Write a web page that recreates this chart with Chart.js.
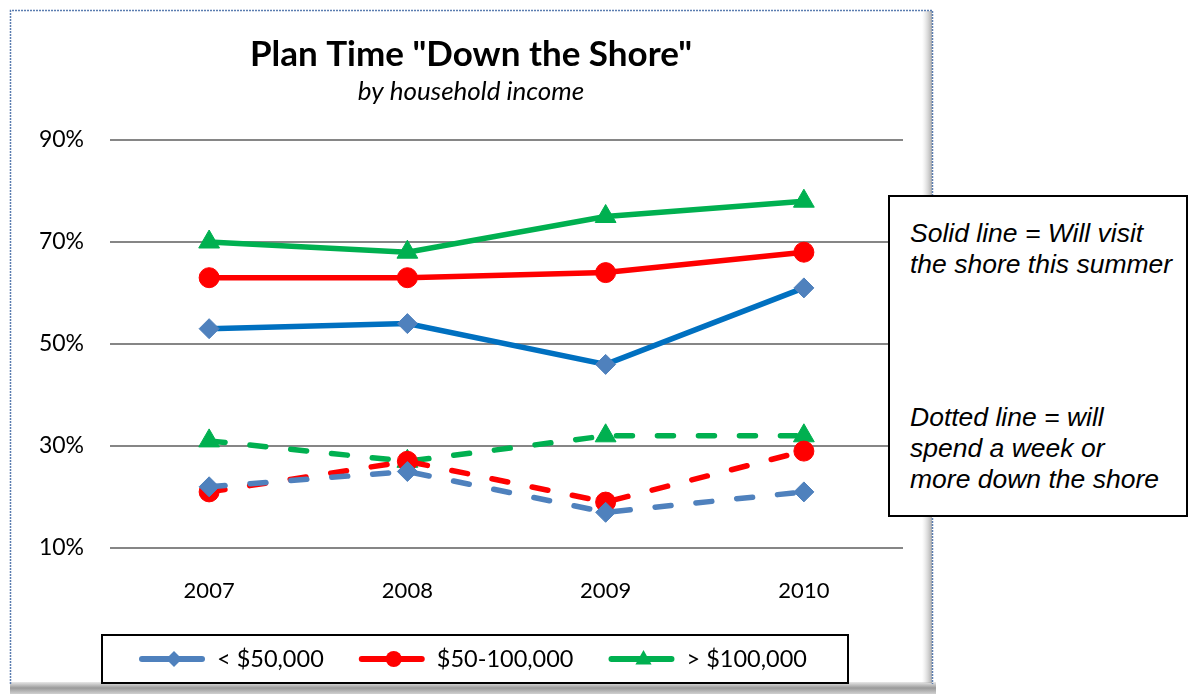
<!DOCTYPE html>
<html><head><meta charset="utf-8">
<script src="https://cdn.jsdelivr.net/npm/chart.js@4.4.1/dist/chart.umd.min.js"></script>
<style>
html,body{margin:0;padding:0;background:#fff;width:1191px;height:694px;overflow:hidden;}
#wrap{position:relative;width:1191px;height:694px;}
#note{position:absolute;left:888px;top:195px;width:296px;height:318px;border:2px solid #000;background:#fff;
 font-family:"Liberation Sans",Arial,sans-serif;font-style:italic;font-size:26.5px;line-height:31px;color:#000;box-sizing:content-box;}
#note p{margin:0;position:absolute;left:20px;white-space:nowrap;}
</style></head>
<body><div id="wrap"><canvas id="c" width="1191" height="694"></canvas>
<div id="note"><p style="top:21px">Solid line = Will visit<br>the shore this summer</p><p style="top:205px">Dotted line = will<br>spend a week or<br>more down the shore</p></div></div>
<script>
const categories = ['2007','2008','2009','2010'];
const visitUnder50 = [53,54,46,61];
const visit50to100 = [63,63,64,68];
const visitOver100 = [70,68,75,78];
const weekUnder50 = [22,25,17,21];
const week50to100 = [21,27,19,29];
const weekOver100 = [31,27,32,32];
const seriesLabels = ['< $50,000','$50-100,000','> $100,000'];
const yTicks = [10,30,50,70,90];
const titleText = 'Plan Time "Down the Shore"';
const subtitleText = 'by household income';

const BLUE_LINE='#0070C0', BLUE='#4F81BD', RED='#FF0000', GREEN='#00B050';
function ds(label,data,line,mark,style,r,dashed,legend){
  return {label,data,borderColor:line,backgroundColor:mark,pointBackgroundColor:mark,pointBorderColor:mark,
    pointStyle:style,pointRadius:r,pointHoverRadius:r,pointBorderWidth:1,borderWidth:5.5,
    borderDash:dashed?[16,25]:[],borderCapStyle:dashed?'round':'butt',tension:0,fill:false,inLegend:legend};
}
const datasets=[
  ds(seriesLabels[0],weekUnder50,BLUE,BLUE,'rectRot',10,true,true),
  ds(seriesLabels[1],week50to100,RED,RED,'circle',10,true,true),
  ds(seriesLabels[2],weekOver100,GREEN,GREEN,'triangle',12,true,true),
  ds(seriesLabels[0]+' visit',visitUnder50,BLUE_LINE,BLUE,'rectRot',10,false,false),
  ds(seriesLabels[1]+' visit',visit50to100,RED,RED,'circle',10,false,false),
  ds(seriesLabels[2]+' visit',visitOver100,GREEN,GREEN,'triangle',12,false,false)
];

function drawMarker(ctx,style,x,y,r,color){
  ctx.save();ctx.fillStyle=color;ctx.beginPath();
  if(style==='circle'){ctx.arc(x,y,r,0,Math.PI*2);}
  else if(style==='rectRot'){ctx.moveTo(x,y-r);ctx.lineTo(x+r,y);ctx.lineTo(x,y+r);ctx.lineTo(x-r,y);ctx.closePath();}
  else {ctx.moveTo(x,y-r);ctx.lineTo(x+r*0.9,y+r*0.6);ctx.lineTo(x-r*0.9,y+r*0.6);ctx.closePath();}
  ctx.fill();ctx.restore();
}

const framePlugin={id:'frame',beforeDraw(chart){
  const ctx=chart.ctx;ctx.save();
  ctx.fillStyle='#fff';ctx.fillRect(0,0,chart.width,chart.height);
  let g=ctx.createLinearGradient(0,682,0,694);g.addColorStop(0,'#e8e8e8');g.addColorStop(0.5,'#9a9a9a');g.addColorStop(1,'#d0d0d0');
  ctx.fillStyle=g;ctx.fillRect(10,682,926,12);
  g=ctx.createLinearGradient(922,0,932,0);g.addColorStop(0,'rgba(200,200,200,0)');g.addColorStop(1,'rgba(150,150,150,0.8)');
  ctx.fillStyle=g;ctx.fillRect(922,11,10,672);
  ctx.strokeStyle='#5B7DB0';ctx.lineWidth=1.5;ctx.setLineDash([2,1]);
  ctx.beginPath();ctx.moveTo(10.5,684);ctx.lineTo(10.5,10.5);ctx.lineTo(932.5,10.5);ctx.lineTo(932.5,684);ctx.stroke();
  ctx.restore();
}};
const textPlugin={id:'texts',afterDraw(chart){
  const ctx=chart.ctx;ctx.save();ctx.fillStyle='#000';ctx.textAlign='center';ctx.textBaseline='middle';
  ctx.font='bold 35px Lato';ctx.fillText(titleText,471,55);
  ctx.font='italic 26px Lato';ctx.fillText(subtitleText,471,92);
  ctx.lineWidth=2;ctx.strokeStyle='#000';ctx.strokeRect(102,635,746,48);
  ctx.font='23.5px Lato';ctx.textAlign='left';
  let x=139;const y=659;
  chart.data.datasets.filter(d=>d.inLegend).forEach(d=>{
    ctx.save();ctx.strokeStyle=d.borderColor;ctx.lineWidth=6;ctx.lineCap='round';
    ctx.beginPath();ctx.moveTo(x+3,y);ctx.lineTo(x+63,y);ctx.stroke();ctx.restore();
    drawMarker(ctx,d.pointStyle,x+35,y,d.pointStyle==='triangle'?9:8,d.pointBackgroundColor);
    ctx.fillStyle='#000';ctx.fillText(d.label,x+78,y);
    x+=78+ctx.measureText(d.label).width+35;
  });
  ctx.restore();
}};

new Chart(document.getElementById('c'),{
  type:'line',
  data:{labels:categories,datasets},
  options:{responsive:false,animation:false,
    layout:{padding:{left:0,right:288,top:140,bottom:76}},
    plugins:{legend:{display:false},tooltip:{enabled:false},title:{display:false}},
    scales:{
      x:{offset:true,grid:{display:false,drawTicks:false},border:{display:false},
        ticks:{color:'#000',font:{family:'Lato',size:22},padding:30},
        afterFit(s){s.height=70;}},
      y:{min:10,max:90,afterBuildTicks(s){s.ticks=yTicks.map(v=>({value:v}));},
        grid:{color:'#868686',lineWidth:2,drawTicks:false},border:{display:false},
        ticks:{color:'#000',font:{family:'Lato',size:23},padding:26,callback:v=>v+'%'},
        afterFit(s){s.width=110;}}
    }},
  plugins:[framePlugin,textPlugin]
});
</script></body></html>
